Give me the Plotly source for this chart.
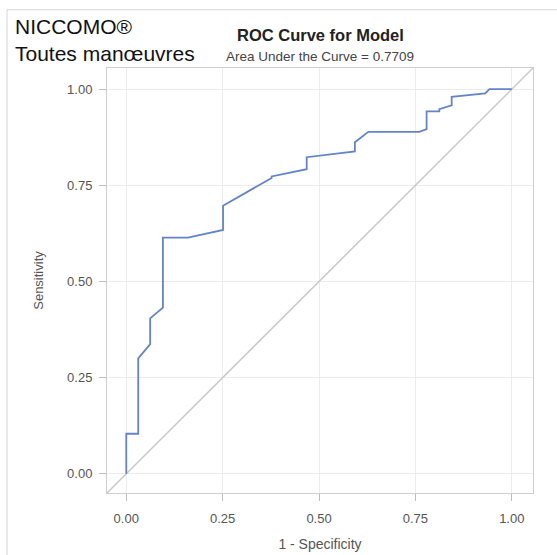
import plotly.graph_objects as go

# ROC curve points: false positive rate (1 - specificity) vs true positive rate
fpr = [0.0, 0.0, 0.031, 0.031, 0.062, 0.062, 0.095, 0.095, 0.160, 0.251, 0.251,
       0.377, 0.377, 0.468, 0.468, 0.593, 0.593, 0.628, 0.760, 0.779, 0.779,
       0.812, 0.812, 0.844, 0.844, 0.931, 0.942, 1.0]
tpr = [0.0, 0.104, 0.104, 0.300, 0.337, 0.404, 0.432, 0.614, 0.614, 0.634, 0.697,
       0.769, 0.773, 0.792, 0.823, 0.838, 0.862, 0.889, 0.889, 0.896, 0.942,
       0.942, 0.948, 0.958, 0.980, 0.989, 1.0, 1.0]
auc = 0.7709

tick_vals = [0.0, 0.25, 0.5, 0.75, 1.0]
tick_text = ["0.00", "0.25", "0.50", "0.75", "1.00"]
axis_range = [-0.05, 1.055]

FONT = "Liberation Sans, Arial, sans-serif"
GRAY_TXT = "#555555"

fig = go.Figure()

# reference (chance) diagonal
fig.add_trace(go.Scatter(
    x=axis_range, y=axis_range, mode="lines",
    line=dict(color="#c9c9c9", width=1.5), hoverinfo="skip", showlegend=False))

# ROC curve
fig.add_trace(go.Scatter(
    x=fpr, y=tpr, mode="lines",
    line=dict(color="#6384cc", width=1.8), showlegend=False))

axis_common = dict(
    range=axis_range, tickvals=tick_vals, ticktext=tick_text,
    showgrid=True, gridcolor="#ececec", gridwidth=1, zeroline=False,
    showline=True, linecolor="#cfcfcf", linewidth=1, mirror=True,
    ticks="outside", ticklen=7, tickcolor="#bdbdbd", tickwidth=1,
    tickfont=dict(family=FONT, size=13, color=GRAY_TXT),
    automargin=False,
)

fig.update_xaxes(**axis_common, ticklabelstandoff=6,
                 title=dict(text="1 - Specificity", standoff=14,
                            font=dict(family=FONT, size=14, color=GRAY_TXT)))
fig.update_yaxes(**axis_common, ticklabelstandoff=4,
                 title=dict(text="Sensitivity", standoff=20,
                            font=dict(family=FONT, size=13, color=GRAY_TXT)))

# outer frame (top and left edges)
fig.add_shape(type="line", xref="paper", yref="paper",
              x0=-0.2347, y0=1.137, x1=1.07, y1=1.137,
              line=dict(color="#d4d4d4", width=1))
fig.add_shape(type="line", xref="paper", yref="paper",
              x0=-0.2347, y0=1.137, x1=-0.2347, y1=-0.16,
              line=dict(color="#d4d4d4", width=1))

annotations = [
    dict(text="NICCOMO®", x=-0.22, y=1.097, xanchor="left", yanchor="middle",
         font=dict(family=FONT, size=21, color="#111111")),
    dict(text="Toutes manœuvres", x=-0.22, y=1.034, xanchor="left", yanchor="middle",
         font=dict(family=FONT, size=21, color="#111111")),
    dict(text="<b>ROC Curve for Model</b>", x=0.5, y=1.077, xanchor="center",
         yanchor="middle", font=dict(family=FONT, size=16.5, color="#222222")),
    dict(text=f"Area Under the Curve = {auc:.4f}", x=0.5, y=1.027, xanchor="center",
         yanchor="middle", font=dict(family=FONT, size=13.5, color="#444444")),
]
for a in annotations:
    a.update(xref="paper", yref="paper", showarrow=False)
fig.update_layout(annotations=annotations)

fig.update_layout(
    width=557, height=555,
    margin=dict(l=107, r=24, t=68, b=62),
    paper_bgcolor="white", plot_bgcolor="white",
    font=dict(family=FONT),
)

fig.write_html("out.html")
